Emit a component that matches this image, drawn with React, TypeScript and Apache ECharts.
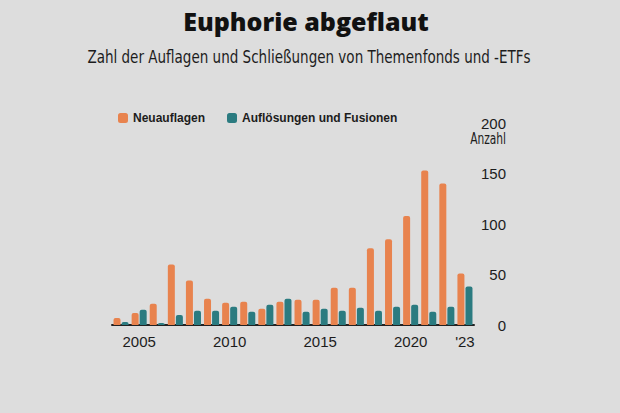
import React, { useEffect, useRef } from "react";
import * as echarts from "echarts";

const years = ["2004","2005","2006","2007","2008","2009","2010","2011","2012","2013","2014","2015","2016","2017","2018","2019","2020","2021","2022","2023"];
const neuauflagen = [7, 12, 21, 60, 44, 26, 22, 23, 16, 23, 25, 25, 37, 37, 76, 85, 108, 153, 140, 51];
const aufloesungen = [3, 15, 2, 10, 14, 14, 18, 13, 20, 26, 13, 16, 14, 17, 14, 18, 20, 13, 18, 38];
const shownYears = ["2005", "2010", "2015", "2020", "2023"];

const ORANGE = "#E8834E";
const TEAL = "#2B7B80";
const BG = "#DDDDDD";
const INK = "#1c1c1c";
const COND = "'DejaVu Sans Condensed', sans-serif";
const SANS = "'Liberation Sans', Arial, sans-serif";

export default function App() {
  const ref = useRef<HTMLDivElement>(null);
  useEffect(() => {
    if (!ref.current) return;
    const chart = echarts.init(ref.current, null, { renderer: "svg" });
    chart.setOption({
      animation: false,
      backgroundColor: BG,
      graphic: [
        {
          type: "text",
          x: 306,
          y: 8,
          style: { text: "Euphorie abgeflaut", fontSize: 25, fontWeight: 800, fontFamily: "'Open Sans', sans-serif", fill: "#111", align: "center", verticalAlign: "top" },
        },
        {
          type: "text",
          x: 309,
          y: 49,
          scaleX: 0.884,
          style: { text: "Zahl der Auflagen und Schließungen von Themenfonds und -ETFs", fontSize: 17, fontFamily: COND, fill: INK, align: "center", verticalAlign: "top" },
        },
        {
          type: "text",
          x: 506,
          y: 131,
          scaleX: 0.79,
          style: { text: "Anzahl", fontSize: 15, fontFamily: COND, fill: INK, align: "right", verticalAlign: "top" },
        },
      ],
      legend: {
        left: 113,
        top: 107,
        icon: "roundRect",
        itemWidth: 10,
        itemHeight: 10,
        itemGap: 22,
        textStyle: { fontSize: 12, fontWeight: "bold", fontFamily: SANS, color: INK },
        data: ["Neuauflagen", "Auflösungen und Fusionen"],
      },
      grid: { left: 112, right: 146, top: 123, bottom: 88, containLabel: false },
      xAxis: {
        type: "category",
        data: years,
        axisLine: { show: true, lineStyle: { color: "#222", width: 2 } },
        axisTick: { show: false },
        axisLabel: {
          interval: (_i: number, v: string) => shownYears.includes(v),
          formatter: (v: string) => (v === "2023" ? "'23" : v),
          fontSize: 15,
          fontFamily: SANS,
          color: INK,
          margin: 9,
        },
      },
      yAxis: {
        type: "value",
        position: "right",
        min: 0,
        max: 200,
        interval: 50,
        axisLine: { show: false },
        axisTick: { show: false },
        splitLine: { show: false },
        axisLabel: { fontSize: 15, fontFamily: SANS, color: INK, align: "right", margin: 32 },
      },
      series: [
        {
          name: "Neuauflagen",
          type: "bar",
          data: neuauflagen,
          barWidth: 7,
          barGap: "15%",
          itemStyle: { color: ORANGE, borderRadius: [2, 2, 0, 0] },
        },
        {
          name: "Auflösungen und Fusionen",
          type: "bar",
          data: aufloesungen,
          barWidth: 7,
          itemStyle: { color: TEAL, borderRadius: [2, 2, 0, 0] },
        },
      ],
    });
    return () => chart.dispose();
  }, []);
  return <div ref={ref} style={{ position: "fixed", left: 0, top: 0, width: 620, height: 413 }} />;
}
